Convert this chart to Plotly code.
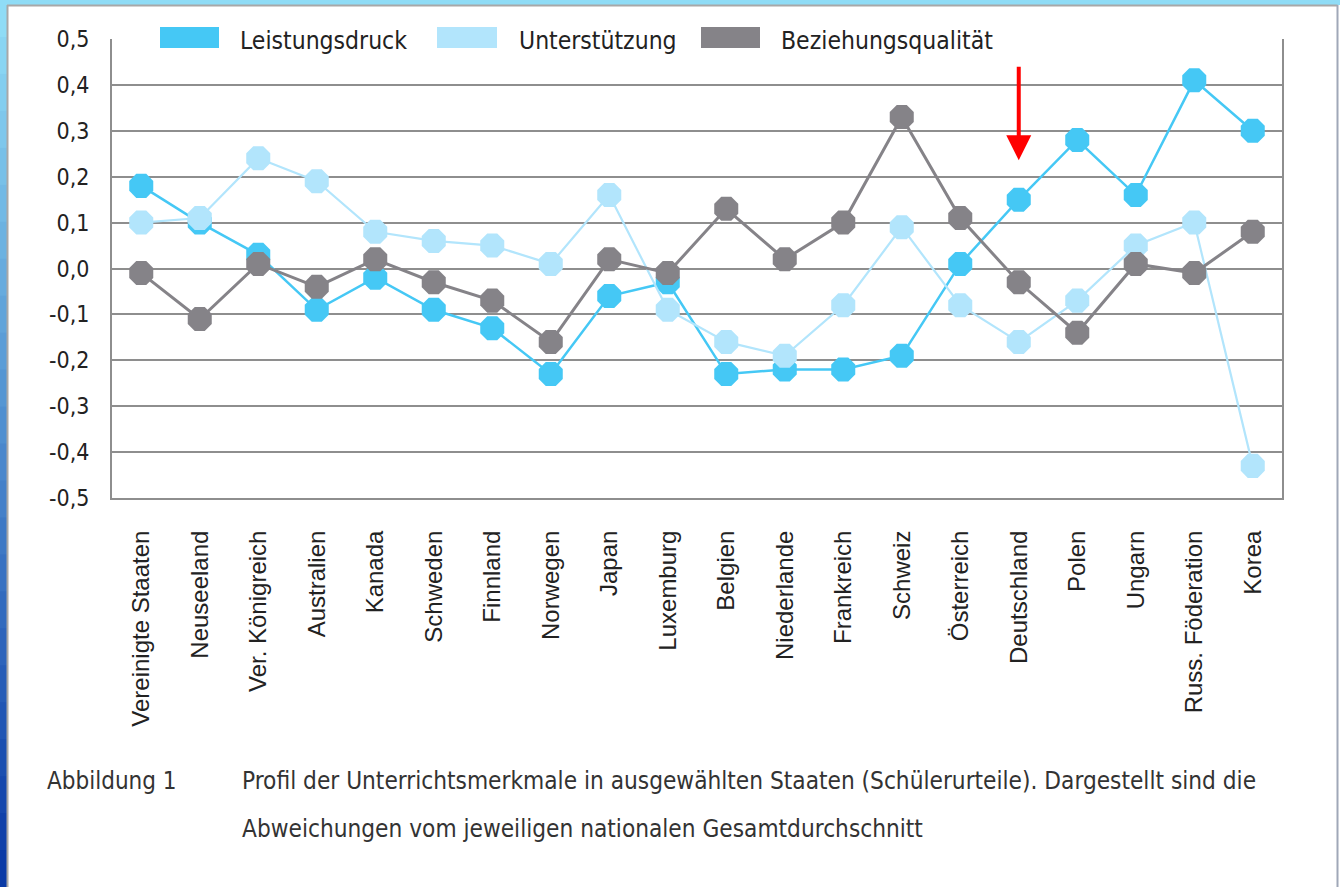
import plotly.graph_objects as go

categories = ["Vereinigte Staaten", "Neuseeland", "Ver. Königreich", "Australien", "Kanada",
              "Schweden", "Finnland", "Norwegen", "Japan", "Luxemburg", "Belgien",
              "Niederlande", "Frankreich", "Schweiz", "Österreich", "Deutschland",
              "Polen", "Ungarn", "Russ. Föderation", "Korea"]

leistungsdruck = [0.18, 0.10, 0.03, -0.09, -0.02, -0.09, -0.13, -0.23, -0.06, -0.03,
                  -0.23, -0.22, -0.22, -0.19, 0.01, 0.15, 0.28, 0.16, 0.41, 0.30]
unterstuetzung = [0.10, 0.11, 0.24, 0.19, 0.08, 0.06, 0.05, 0.01, 0.16, -0.09,
                  -0.16, -0.19, -0.08, 0.09, -0.08, -0.16, -0.07, 0.05, 0.10, -0.43]
beziehung = [-0.01, -0.11, 0.01, -0.04, 0.02, -0.03, -0.07, -0.16, 0.02, -0.01,
             0.13, 0.02, 0.10, 0.33, 0.11, -0.03, -0.14, 0.01, -0.01, 0.08]

series_names = ["Leistungsdruck", "Unterstützung", "Beziehungsqualität"]
series_colors = ["#45C8F5", "#B2E5FC", "#858388"]
series_widths = [2.5, 2.2, 3]

ytick_vals = [0.5, 0.4, 0.3, 0.2, 0.1, 0.0, -0.1, -0.2, -0.3, -0.4, -0.5]
ytick_text = ["0,5", "0,4", "0,3", "0,2", "0,1", "0,0", "-0,1", "-0,2", "-0,3", "-0,4", "-0,5"]

caption_label = "Abbildung 1"
caption_lines = ["Profil der Unterrichtsmerkmale in ausgewählten Staaten (Schülerurteile). Dargestellt sind die",
                 "Abweichungen vom jeweiligen nationalen Gesamtdurchschnitt"]

arrow_target = "Deutschland"
arrow_tip_y = 0.236
arrow_tail_y = 0.443

W, H = 1340, 887
L, R, T, B = 112, 58, 39, 389
PW, PH = W - L - R, H - T - B

def px(x):
    return (x - L) / PW

def py(y):
    return (H - B - y) / PH

NARROW = "Liberation Sans Narrow, Arial Narrow, DejaVu Sans Condensed, Liberation Sans, sans-serif"
GRID = "#8e8e8e"

fig = go.Figure()
for name, vals, col, w in zip(series_names, [leistungsdruck, unterstuetzung, beziehung],
                              series_colors, series_widths):
    fig.add_trace(go.Scatter(
        x=categories, y=vals, name=name, mode="lines+markers",
        line=dict(color=col, width=w),
        marker=dict(symbol="octagon", size=26, color=col, line=dict(width=0)),
        showlegend=False))

shapes = []
# frame
shapes.append(dict(type="rect", xref="paper", yref="paper", x0=px(0), x1=px(W), y0=py(0), y1=py(5),
                   fillcolor="#8fdcf6", line=dict(width=0), layer="above"))
n = 24
def lerp(a, b, t):
    return int(round(a + (b - a) * t))
c0, c1 = (0x8f, 0xdc, 0xf6), (0x0a, 0x3a, 0xa6)
for i in range(n):
    t = i / (n - 1)
    col = "rgb(%d,%d,%d)" % tuple(lerp(c0[k], c1[k], t) for k in range(3))
    shapes.append(dict(type="rect", xref="paper", yref="paper", x0=px(0), x1=px(7),
                       y0=py(H * i / n), y1=py(H * (i + 1) / n + 1),
                       fillcolor=col, line=dict(width=0), layer="above"))
shapes.append(dict(type="line", xref="paper", yref="paper", x0=px(7.5), x1=px(7.5), y0=py(5), y1=py(H),
                   line=dict(color="#a8a8a8", width=2), layer="above"))
shapes.append(dict(type="line", xref="paper", yref="paper", x0=px(7), x1=px(1337.5), y0=py(5.5), y1=py(5.5),
                   line=dict(color="#a8a8a8", width=2), layer="above"))
shapes.append(dict(type="line", xref="paper", yref="paper", x0=px(1337.5), x1=px(1337.5), y0=py(5), y1=py(H),
                   line=dict(color="#a0a8b8", width=2), layer="above"))
# cover top grid line behind legend
shapes.append(dict(type="rect", xref="paper", yref="paper", x0=px(143), x1=px(1007), y0=py(52), y1=py(24),
                   fillcolor="white", line=dict(width=0), layer="above"))
# legend swatches
legend_rects = [(160, 219), (437, 497), (701, 760)]
legend_text_x = [238, 517, 779]
for (x0, x1), col in zip(legend_rects, series_colors):
    shapes.append(dict(type="rect", xref="paper", yref="paper", x0=px(x0), x1=px(x1), y0=py(48), y1=py(27),
                       fillcolor=col, line=dict(width=0), layer="above"))

annotations = []
for tx, name in zip(legend_text_x, series_names):
    annotations.append(dict(x=px(tx), y=py(40), xref="paper", yref="paper", text=name, showarrow=False,
                            xanchor="left", yanchor="middle", font=dict(family=NARROW, size=24.5, color="#222")))
annotations.append(dict(x=px(45), y=py(781), xref="paper", yref="paper", text=caption_label, showarrow=False,
                        xanchor="left", yanchor="middle", font=dict(family=NARROW, size=24, color="#333")))
for i, line in enumerate(caption_lines):
    annotations.append(dict(x=px(240), y=py(781 + 48 * i), xref="paper", yref="paper", text=line,
                            showarrow=False, xanchor="left", yanchor="middle",
                            font=dict(family=NARROW, size=24.2, color="#333")))
annotations.append(dict(x=arrow_target, y=arrow_tip_y, xref="x", yref="y", text="",
                        showarrow=True, axref="pixel", ax=0, ayref="y", ay=arrow_tail_y,
                        arrowhead=2, arrowsize=1.25, arrowwidth=4, arrowcolor="#ff0000", standoff=0))

fig.update_layout(
    width=W, height=H,
    margin=dict(l=L, r=R, t=T, b=B, pad=0),
    paper_bgcolor="white", plot_bgcolor="white",
    shapes=shapes, annotations=annotations,
    xaxis=dict(type="category", categoryorder="array", categoryarray=categories,
               range=[-0.5, len(categories) - 0.5], showgrid=False, zeroline=False,
               showline=True, linecolor=GRID, linewidth=2, mirror=False,
               ticks="", tickangle=-90, ticklabelstandoff=21,
               tickfont=dict(family="Liberation Sans, Arial, sans-serif", size=24, color="#222")),
    yaxis=dict(range=[-0.5, 0.5], tickvals=ytick_vals, ticktext=ytick_text,
               showgrid=True, gridcolor=GRID, gridwidth=2, zeroline=False,
               showline=True, linecolor=GRID, linewidth=2, mirror=True,
               ticks="", ticklabelstandoff=16,
               tickfont=dict(family=NARROW, size=23, color="#222")),
)

fig.write_html("out.html", config={"displayModeBar": False},
               post_script="document.body.style.margin='0';document.body.style.overflow='hidden';")
